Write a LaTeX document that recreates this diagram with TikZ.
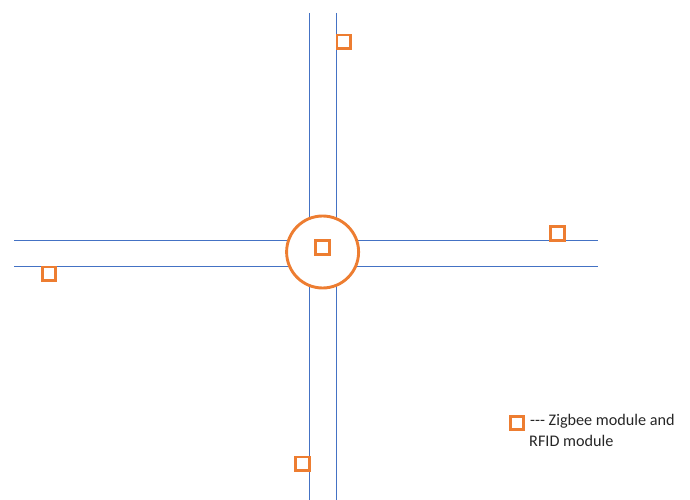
\documentclass[tikz,border=0pt]{standalone}
\usepackage{fontspec}
\setmainfont{Carlito}[Ligatures=NoCommon]
\definecolor{roadblue}{HTML}{4472C4}
\definecolor{nodeorange}{HTML}{ED7D31}
\tikzset{
  road/.style={draw=roadblue, line width=1pt},
  module/.style={draw=nodeorange, line width=2.9pt, fill=white, minimum size=13.5pt, inner sep=0pt, rectangle},
  junction/.style={circle, draw=nodeorange, line width=2.9pt, fill=white, minimum size=72pt, inner sep=0pt},
  legendtext/.style={anchor=base west, inner sep=0pt, font=\fontsize{16.2}{19}\selectfont, text=black!85}
}
\begin{document}
\begin{tikzpicture}[x=1pt, y=-1pt]
  \useasboundingbox (0,0) rectangle (690,500);
  % roads
  \coordinate (vl-top) at (309.3,13);
  \coordinate (vl-bot) at (309.3,500);
  \coordinate (vr-top) at (336.7,13);
  \coordinate (vr-bot) at (336.7,500);
  \coordinate (ht-left) at (14,240);
  \coordinate (ht-right) at (598,240);
  \coordinate (hb-left) at (14,266.5);
  \coordinate (hb-right) at (598,266.5);
  \draw[road] (vl-top) -- (vl-bot);
  \draw[road] (vr-top) -- (vr-bot);
  \draw[road] (ht-left) -- (ht-right);
  \draw[road] (hb-left) -- (hb-right);
  % roundabout
  \node[junction] (roundabout) at (322.6,252) {};
  % modules
  \node[module] (m-center) at (322.3,247.3) {};
  \node[module] (m-north) at (343.7,41.8) {};
  \node[module] (m-east) at (557.3,233.4) {};
  \node[module] (m-west) at (49,273.7) {};
  \node[module] (m-south) at (302.3,463.7) {};
  % legend
  \node[module] (m-legend) at (517,423) {};
  \node[legendtext] (legend-1) at (530,425) {{-}{-}{-} Zigbee module and};
  \node[legendtext] (legend-2) at (529,446.7) {RFID module};
\end{tikzpicture}
\end{document}
